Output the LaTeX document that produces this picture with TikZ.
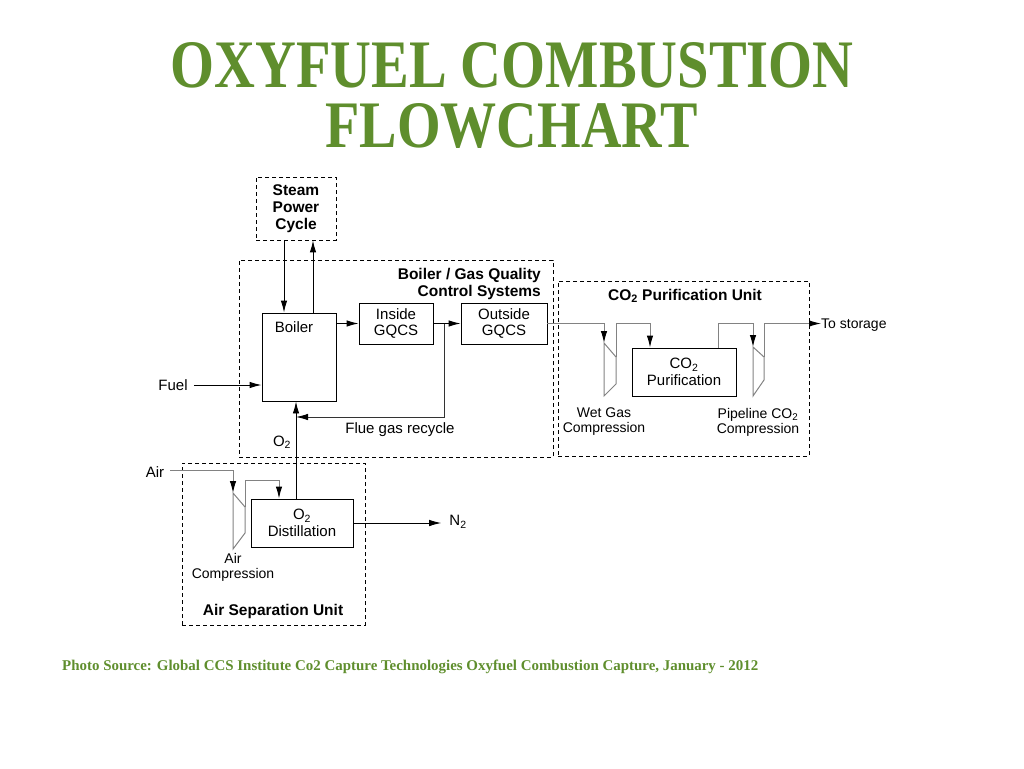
\documentclass[tikz,border=0pt]{standalone}
\usepackage{fontspec}
\setmainfont{Liberation Sans}
\newfontfamily\titlefont{Liberation Serif}
\usetikzlibrary{arrows.meta,calc}
\definecolor{titlegreen}{RGB}{95,142,45}
\definecolor{pipegray}{RGB}{130,130,130}
\begin{document}
\begin{tikzpicture}[x=1pt,y=-1pt,
  txt/.style={font=\fontsize{15}{16.5}\selectfont, inner sep=0pt, align=center},
  btxt/.style={font=\fontsize{15.5}{17}\selectfont\bfseries, inner sep=0pt, align=center},
  stxt/.style={font=\fontsize{14}{15}\selectfont, inner sep=0pt, align=center},
  unitbox/.style={draw=black, dashed, dash pattern=on 4pt off 3pt, line width=0.8pt, inner sep=0pt},
  procbox/.style={draw=black, line width=0.9pt, inner sep=0pt, align=center, font=\fontsize{15}{16.5}\selectfont},
  arr/.style={line width=0.9pt, draw=black, -{Latex[length=12pt,width=6.5pt]}},
  parr/.style={line width=1pt, draw=pipegray, -{Latex[length=12pt,width=6.5pt,color=black]}},
  comp/.style={line width=1pt, draw=pipegray},
  titletxt/.style={inner sep=0pt, text=titlegreen}
]
\useasboundingbox (0,0) rectangle (1024,768);

% Title
\node[titletxt] (title1) at (512,65) {\titlefont\bfseries\resizebox{683pt}{45pt}{OXYFUEL COMBUSTION}};
\node[titletxt] (title2) at (511.5,126) {\titlefont\bfseries\resizebox{372pt}{44pt}{FLOWCHART}};

% Unit (dashed) boxes
\node[unitbox, minimum width=80pt, minimum height=63pt, btxt] (steam) at (296,208.5) {Steam\\Power\\Cycle};
\node[unitbox, minimum width=314pt, minimum height=197pt] (gqc) at (396,358.5) {};
\node[unitbox, minimum width=251pt, minimum height=175pt] (co2u) at (683.5,368.5) {};
\node[unitbox, minimum width=183pt, minimum height=162pt] (asu) at (273.5,544) {};

\node[btxt, anchor=east, align=right] (gqclabel) at (541,283.5) {Boiler / Gas Quality\\Control Systems};
\node[btxt] (co2label) at (685,296) {CO\textsubscript{2} Purification Unit};
\node[btxt] (asulabel) at (273,611) {Air Separation Unit};

% Process boxes
\node[procbox, minimum width=74pt, minimum height=88pt] (boiler) at (299,357) {};
\node[txt] (boilertxt) at (294,327) {Boiler};
\node[procbox, minimum width=74pt, minimum height=41pt] (inside) at (396,323.5) {Inside\\GQCS};
\node[procbox, minimum width=86pt, minimum height=41pt] (outside) at (504,323.5) {Outside\\GQCS};
\node[procbox, minimum width=104pt, minimum height=48pt] (purif) at (684,372) {CO\textsubscript{2}\\Purification};
\node[procbox, minimum width=102pt, minimum height=48pt] (dist) at (302,523) {O\textsubscript{2}\\Distillation};

% Free labels
\node[txt] (fuel) at (173,385) {Fuel};
\node[txt] (flue) at (400,430) {Flue gas recycle};
\node[txt] (o2lab) at (282,442) {O\textsubscript{2}};
\node[txt] (air) at (155,472) {Air};
\node[txt] (n2) at (458,522) {N\textsubscript{2}};
\node[stxt, anchor=west] (storage) at (821,325) {To storage};
\node[stxt] (wglab) at (604,422) {Wet Gas\\Compression};
\node[stxt] (pclab) at (758,422) {Pipeline CO\textsubscript{2}\\Compression};
\node[stxt] (aclab) at (233,567.5) {Air\\Compression};

% Steam cycle connections
\draw[arr] ([xshift=-12pt]steam.south) -- ([xshift=-12pt]steam.south |- boiler.north);
\draw[arr] ([xshift=17pt]steam.south |- boiler.north) -- ([xshift=17pt]steam.south);

% Fuel
\draw[arr] (fuel.east) ++(6pt,0) -- (boiler.west |- fuel.east);

% Boiler -> Inside -> Outside
\draw[arr] (boiler.east |- inside.west) -- (inside.west);
\draw[arr] (inside.east) -- (outside.west);

% Flue gas recycle
\coordinate (br) at (444,323.5);
\coordinate (o2in) at (296,417);
\draw[line width=0.9pt, draw=black!80, -{Latex[length=12pt,width=6.5pt,color=black]}] (br) |- (o2in);

% O2 to boiler
\draw[arr] ([xshift=-6pt]dist.north) -- ([xshift=-6pt]dist.north |- boiler.south);

% Air compression
\coordinate (ac) at (233,493);
\draw[parr] (air.east) ++(6pt,2pt) -| (ac);
\draw[comp] (233,493) -- (245,507) -- (245,533) -- (233,549) -- cycle;
\draw[parr] (245,507) -- (245,480) -| ([xshift=-23pt]dist.north);

% N2
\draw[arr] (dist.east) -- ([xshift=-8pt]n2.west |- dist.east);

% Wet gas compression
\coordinate (wg) at (604,343);
\draw[parr] (outside.east) -| (wg);
\draw[comp] (604,343) -- (616,357) -- (616,384) -- (604,396) -- cycle;
\draw[parr] (616,357) -- (616,323.5) -| ([xshift=-34pt]purif.north);

% Pipeline compression
\coordinate (pc) at (753,347);
\draw[parr] ([xshift=34pt]purif.north) -- ([xshift=34pt]purif.north |- outside.east) -| (pc);
\draw[comp] (753,347) -- (764,357) -- (764,380) -- (753,396) -- cycle;
\draw[parr] (764,357) -- (764,323.5) -- (storage.west |- 0,323.5);

% Footer
\node[inner sep=0pt, anchor=west, text=titlegreen] (footer) at (62,666.5) {\titlefont\bfseries\resizebox{696pt}{10.5pt}{Photo Source: Global CCS Institute Co2 Capture Technologies Oxyfuel Combustion Capture, January - 2012}};
\end{tikzpicture}
\end{document}
